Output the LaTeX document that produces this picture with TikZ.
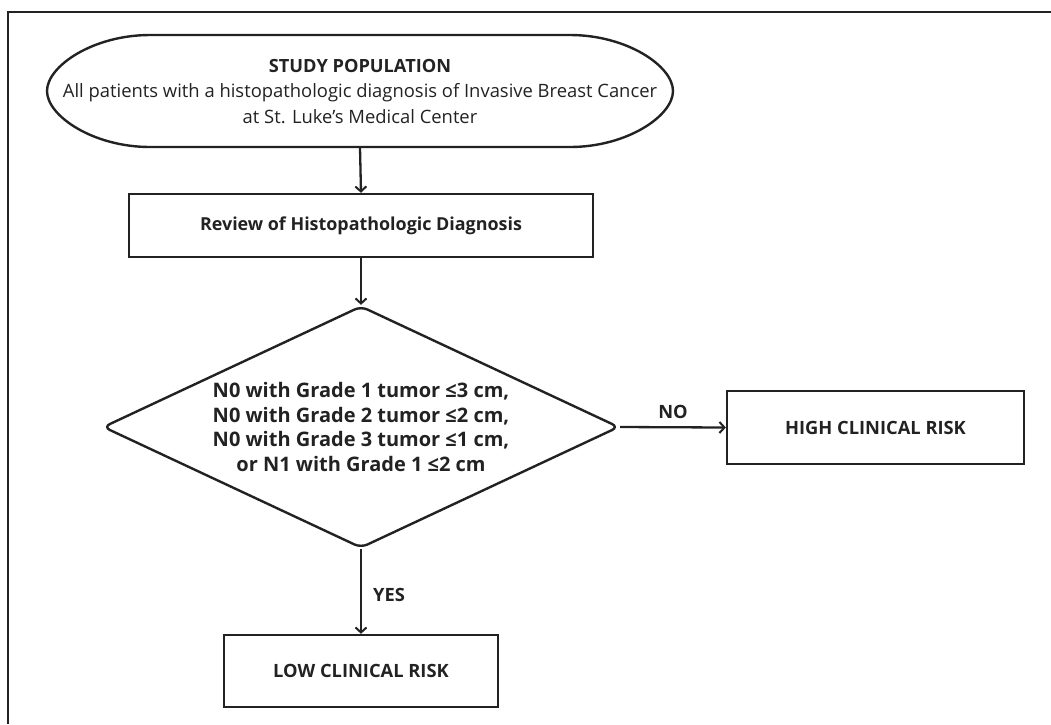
\documentclass[tikz,border=0pt]{standalone}
\usepackage{fontspec}
\setmainfont{Open Sans}
\usetikzlibrary{arrows.meta,shapes.geometric}
\definecolor{ink}{HTML}{222222}
\begin{document}
\begin{tikzpicture}[x=1pt,y=-1pt,
  line/.style={draw=ink,line width=2.4pt},
  arr/.style={draw=ink,line width=2.3pt,-{Straight Barb[length=5pt,width=11pt,line width=2pt]}},
  boxnode/.style={line,rectangle,align=center,text=ink,font=\fontsize{18.3}{25}\selectfont\bfseries,inner sep=0pt},
  lbl/.style={text=ink,font=\fontsize{18.3}{25}\selectfont\bfseries,inner sep=0pt}]
\useasboundingbox (0,0) rectangle (1051,724);
% frame
\draw[line width=2pt,draw=ink] (1051,12) -- (8,12) -- (8,724);
% study population
\node[align=center,text=ink,inner sep=0pt,minimum width=626pt,minimum height=112pt,font=\fontsize{18.4}{25.5}\selectfont] (pop) at (360,91.5)
  {{\fontsize{18.2}{25.5}\selectfont\bfseries STUDY POPULATION}\\All patients with a histopathologic diagnosis of Invasive Breast Cancer\\at St. Luke’s Medical Center};
\draw[line] (150,35) -- (570,35)
  .. controls (626.9,35) and (673,66.1) .. (673,91)
  .. controls (673,115.9) and (626.9,147) .. (570,147)
  -- (150,147)
  .. controls (93.1,147) and (47,115.9) .. (47,91)
  .. controls (47,66.1) and (93.1,35) .. (150,35) -- cycle;
\node[boxnode,minimum width=464pt,minimum height=63pt,font=\fontsize{17.9}{25}\selectfont\bfseries] (rev) at (361,225.5) {Review of Histopathologic Diagnosis};
\node[line,diamond,aspect=2.13,rounded corners=7pt,minimum width=516pt,minimum height=242pt,inner sep=0pt,align=center,text=ink,font=\fontsize{20}{24.8}\selectfont\bfseries] (dia) at (361,427)
  {\raisebox{-3pt}{\parbox{300pt}{\centering N0 with Grade 1 tumor ≤3 cm,\\N0 with Grade 2 tumor ≤2 cm,\\N0 with Grade 3 tumor ≤1 cm,\\or N1 with Grade 1 ≤2 cm}}};
\node[boxnode,minimum width=297pt,minimum height=73pt] (high) at (875.5,427.5) {HIGH CLINICAL RISK};
\node[boxnode,minimum width=274pt,minimum height=72pt] (low) at (361,671) {LOW CLINICAL RISK};
\draw[arr] (pop.south) -- (rev.north);
\draw[arr] (rev.south) -- (dia.north);
\draw[arr] (dia.east) -- (high.west) node[lbl,midway,above=7pt] {NO};
\draw[arr] (dia.south) -- (low.north) node[lbl,midway,right=11pt,yshift=-3.5pt] {YES};
\end{tikzpicture}
\end{document}
